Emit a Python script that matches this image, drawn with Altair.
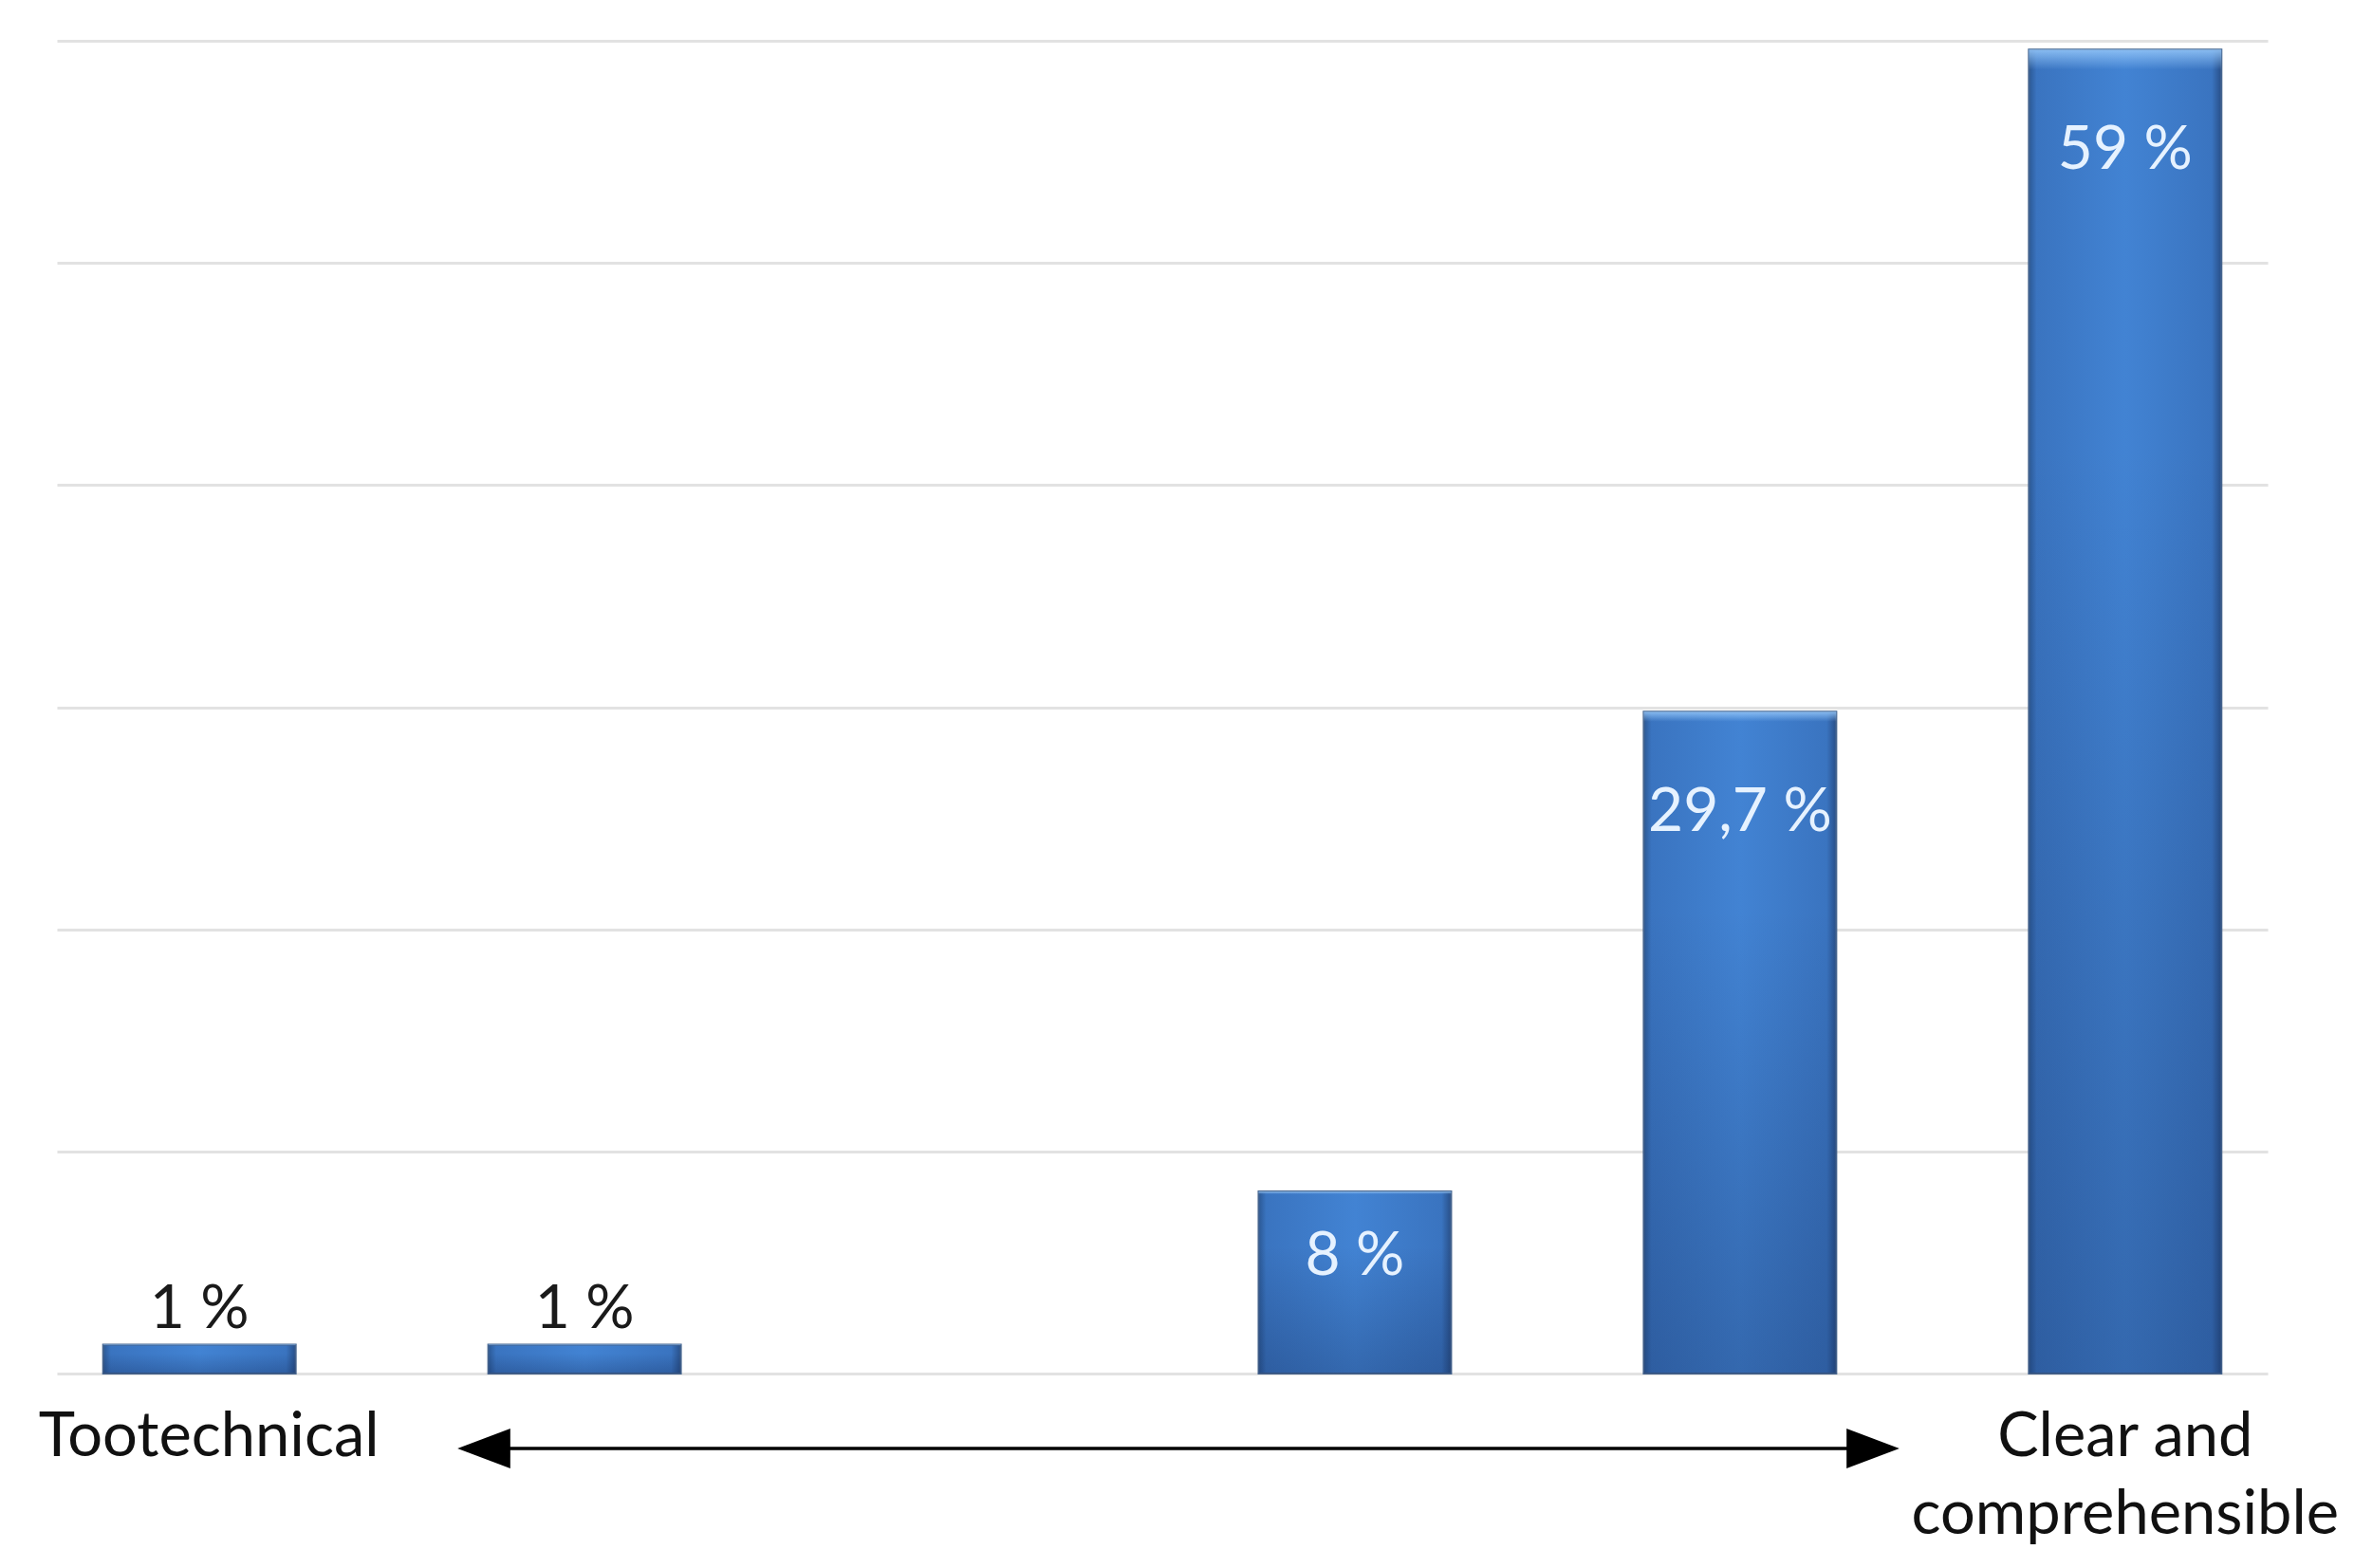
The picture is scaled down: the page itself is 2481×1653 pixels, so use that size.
import altair as alt
import pandas as pd

categories = ["1", "2", "3", "4", "5", "6"]
values = [1.3, 1.3, 0, 8.2, 29.8, 59.6]
value_labels = ["1 %", "1 %", "", "8 %", "29,7 %", "59 %"]
end_labels = ["Tootechnical", "", "", "", "", "Clear and\ncomprehensible"]
grid_values = [0, 10, 20, 30, 40, 50, 60]

df = pd.DataFrame({"cat": categories, "value": values, "label": value_labels, "end": end_labels})

W, H = 2330, 1405
FONT = "Lato"

x = alt.X("cat:N", sort=categories,
          scale=alt.Scale(domain=categories, paddingInner=0.5, paddingOuter=0.12), axis=None)
y = alt.Y("value:Q", scale=alt.Scale(domain=[0, 60], nice=False),
          axis=alt.Axis(values=grid_values, grid=True, labels=False, ticks=False,
                        domain=False, title=None, gridColor="#e2e2e2", gridWidth=3))

hgrad = {
    "gradient": "linear", "x1": 0, "y1": 0, "x2": 1, "y2": 0,
    "stops": [
        {"offset": 0, "color": "#2b5894"},
        {"offset": 0.04, "color": "#3a74c0"},
        {"offset": 0.5, "color": "#4283d3"},
        {"offset": 0.95, "color": "#3a74c0"},
        {"offset": 1, "color": "#284f88"},
    ],
}
vgrad = {
    "gradient": "linear", "x1": 0, "y1": 0, "x2": 0, "y2": 1,
    "stops": [
        {"offset": 0, "color": "rgba(150,200,250,0.85)"},
        {"offset": 0.015, "color": "rgba(150,200,250,0.0)"},
        {"offset": 0.3, "color": "rgba(15,35,80,0.0)"},
        {"offset": 1, "color": "rgba(15,35,80,0.28)"},
    ],
}

base = alt.Chart(df)
nonzero = base.transform_filter("datum.value > 0")

bars = nonzero.mark_bar(color=hgrad, stroke="#46658f", strokeWidth=2).encode(x=x, y=y)
overlay = nonzero.mark_bar(color=vgrad).encode(x=x, y="value:Q")

outside = base.transform_filter("datum.value > 0 && datum.value < 5").mark_text(
    font=FONT, fontSize=64, color="#1a1a1a", baseline="alphabetic", dy=-18
).encode(x=x, y="value:Q", text="label:N")

inside_small = base.transform_filter("datum.value >= 5 && datum.value < 15").mark_text(
    font=FONT, fontSize=64, color="#e6f2ff", baseline="alphabetic", dy=88
).encode(x=x, y="value:Q", text="label:N")

inside_big = base.transform_filter("datum.value >= 15").mark_text(
    font=FONT, fontSize=64, color="#e6f2ff", baseline="alphabetic", dy=126
).encode(x=x, y="value:Q", text="label:N")

end_left = base.transform_filter("datum.end == 'Tootechnical'").mark_text(
    font=FONT, fontSize=65, color="#111111", baseline="alphabetic", dx=10
).encode(x=x, y=alt.value(H + 87), text="end:N")

end_right = base.transform_filter("datum.end != '' && datum.end != 'Tootechnical'").mark_text(
    font=FONT, fontSize=65, color="#111111", baseline="alphabetic",
    lineBreak="\n", lineHeight=82
).encode(x=x, y=alt.value(H + 87), text="end:N")

one = pd.DataFrame({"a": [0]})
arrow_y = H + 79
arrow_line = alt.Chart(one).mark_rule(color="black", strokeWidth=3.5).encode(
    x=alt.value(450), x2=alt.value(1914), y=alt.value(arrow_y))
left_head = alt.Chart(one).mark_point(
    shape="M -1 0 L 1 -0.75 L 1 0.75 Z", filled=True, size=3100, color="black", opacity=1
).encode(x=alt.value(450), y=alt.value(arrow_y))
right_head = alt.Chart(one).mark_point(
    shape="M 1 0 L -1 -0.75 L -1 0.75 Z", filled=True, size=3100, color="black", opacity=1
).encode(x=alt.value(1914), y=alt.value(arrow_y))

chart = alt.layer(
    bars, overlay, outside, inside_small, inside_big, end_left, end_right,
    arrow_line, left_head, right_head
).properties(
    width=W, height=H,
    autosize=alt.AutoSizeParams(type="none"),
    padding={"left": 52, "top": 35, "right": 80, "bottom": 190},
    background="white",
).configure_view(stroke=None)

chart.save("out.html", embed_options={"renderer": "svg", "actions": False})
